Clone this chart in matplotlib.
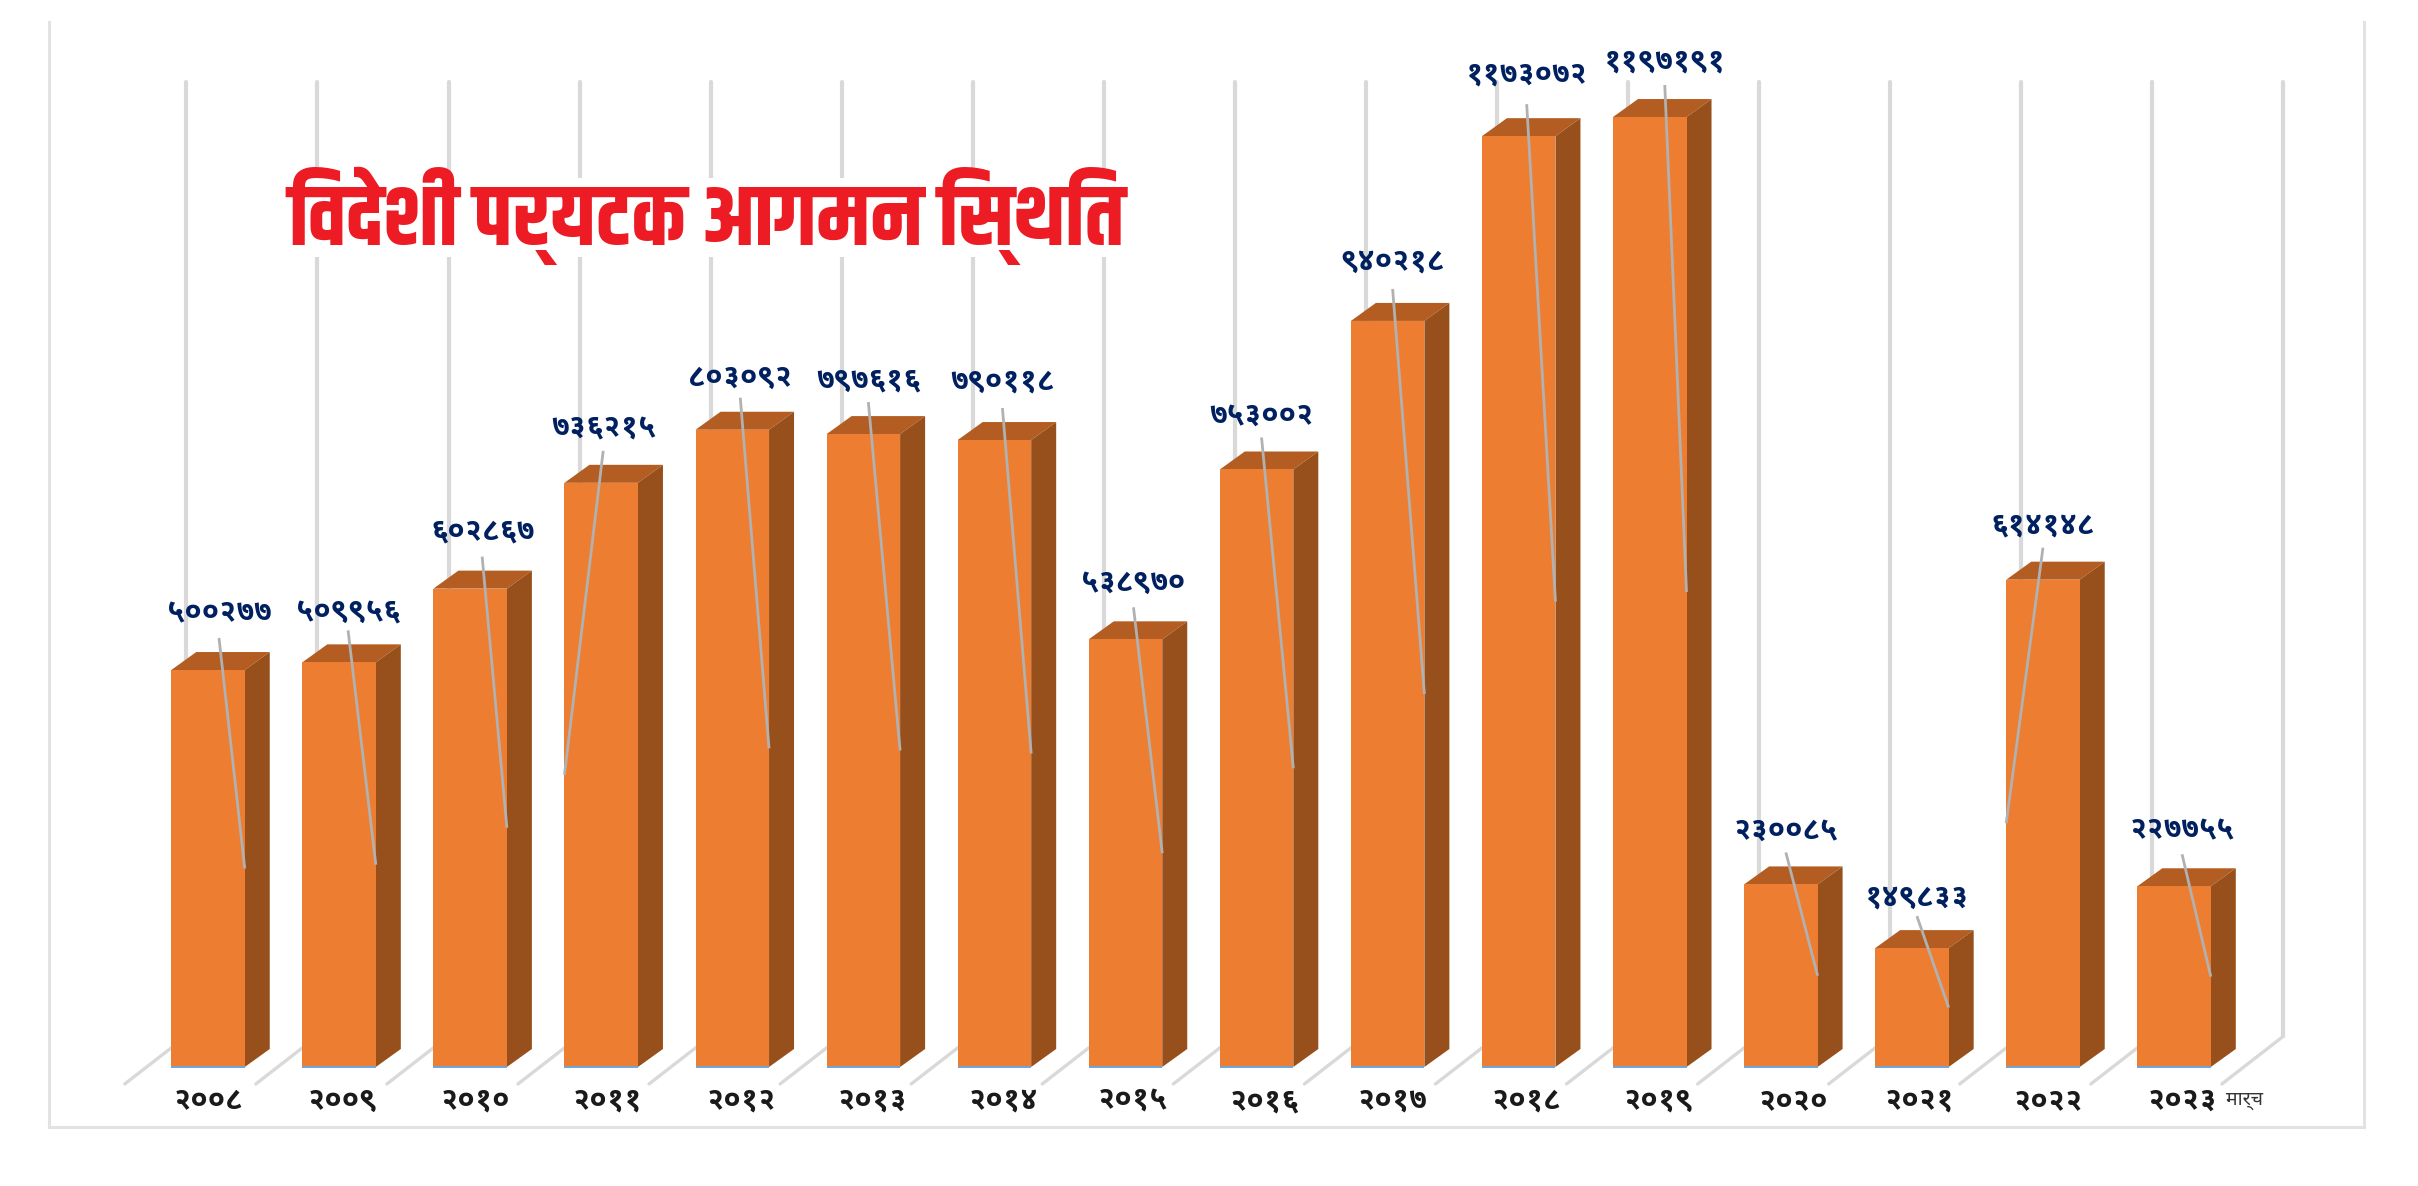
import matplotlib
matplotlib.use('Agg')
import matplotlib.pyplot as plt
from matplotlib.lines import Line2D
from matplotlib.patches import Polygon, Rectangle

# Data
years = ['२००८', '२००९', '२०१०', '२०११', '२०१२', '२०१३', '२०१४', '२०१५',
         '२०१६', '२०१७', '२०१८', '२०१९', '२०२०', '२०२१', '२०२२', '२०२३']
arrivals = [500277, 509956, 602867, 736215, 803092, 797616, 790118, 538970,
            753002, 940218, 1173072, 1197191, 230085, 149833, 614148, 227755]
value_labels = ['५००२७७', '५०९९५६', '६०२८६७', '७३६२१५', '८०३०९२', '७९७६१६', '७९०११८', '५३८९७०',
                '७५३००२', '९४०२१८', '११७३०७२', '११९७१९१', '२३००८५', '१४९८३३', '६१४१४८', '२२७७५५']
# matplotlib has no Indic shaping, so the i-matra is put before its consonant here
title = 'िवदेशी पर्यटक आगमन िस्थित'
year_note = 'मार्च'

# Layout, in pixels of the 2418x1186 figure
W, H = 2418, 1186
X_STEP = 131.07      # px per category
Y_SCALE = 7.935e-4   # px per visitor
X0 = 208.0           # px of the first bar centre
BASE = 1067.0        # px of the baseline, from the top
BAR_W = 73.5 / X_STEP
DX = 25 / X_STEP
DY = 18 / Y_SCALE

# label offsets from the bar centre / bar top, px
label_dx = [11, 9, 12, 2, 8, 5, 8, 8, 5, 5, 8, 15, 5, 5, 0, 8]
label_dy = [57, 50, 57, 54, 52, 54, 59, 57, 54, 59, 62, 56, 54, 51, 54, 56]
year_dx = [0, 3, 5, 6, 9, 9, 9, 7, 8, 5, 8, 9, 13, 7, 5, 8]
# the leaders of 2011 and 2022 end on the left edge of the bar, the others on the right
leader_side = [1, 1, 1, -1, 1, 1, 1, 1, 1, 1, 1, 1, 1, 1, -1, 1]

FRONT = '#ed7d31'
TOP = '#b35d22'
SIDE = '#97501c'
GRID = '#d9d9d9'
LEADER = '#b1b1b1'
NAVY = '#002060'
DIGITS = ['Noto Sans Devanagari UI', 'Noto Sans Devanagari', 'Noto Sans', 'DejaVu Sans']
HEAD = ['Khand', 'Mukta', 'Noto Sans Devanagari', 'Noto Sans', 'DejaVu Sans']

fig = plt.figure(figsize=(W / 100, H / 100), dpi=100)
ax = fig.add_axes([0, 0, 1, 1])
ax.set_xlim(-X0 / X_STEP, (W - X0) / X_STEP)
ax.set_ylim(-(H - BASE) / Y_SCALE, BASE / Y_SCALE)
ax.axis('off')

# back wall and floor lines
n = len(years)
for k in range(n + 1):
    x = k - 0.165
    ax.plot([x, x], [38860, 1241700], color=GRID, lw=3, zorder=1, solid_capstyle='round')
    ax.plot([x, x - 0.47], [38860, -21370], color=GRID, lw=2.4, zorder=1, solid_capstyle='round')

# bars with their fake depth
for i, v in enumerate(arrivals):
    l, r = i - BAR_W / 2, i + BAR_W / 2
    ax.add_patch(Polygon([(l, v), (r, v), (r + DX, v + DY), (l + DX, v + DY)], fc=TOP, ec='none', zorder=3))
    ax.add_patch(Polygon([(r, 0), (r + DX, DY), (r + DX, v + DY), (r, v)], fc=SIDE, ec='none', zorder=3))
ax.bar(range(n), arrivals, width=BAR_W, color=FRONT, zorder=4)
for i in range(n):
    ax.plot([i - BAR_W / 2, i + BAR_W / 2], [0, 0], color='#6fa5d8', lw=1.4, zorder=5, solid_capstyle='butt')

# leader lines and value labels
for i, v in enumerate(arrivals):
    top_x = i + label_dx[i] / X_STEP
    ax.plot([top_x, i + leader_side[i] * BAR_W / 2], [v + 32 / Y_SCALE, v / 2],
            color=LEADER, lw=2, zorder=6, solid_capstyle='butt')
    ax.annotate(value_labels[i], (i, v), xytext=(label_dx[i], label_dy[i]), textcoords='offset pixels',
                ha='center', va='center', color=NAVY, fontsize=22, fontweight='bold', family=DIGITS, zorder=7)
    ax.annotate(years[i], (i, 0), xytext=(year_dx[i], -34), textcoords='offset pixels',
                ha='center', va='center', color='#1a1a1a', fontsize=22, fontweight='bold', family=DIGITS, zorder=7)
ax.annotate(year_note, (n - 1, 0), xytext=(70, -33), textcoords='offset pixels',
            ha='center', va='center', color='#333333', fontsize=14, family=DIGITS)

# white strip that cuts the wall lines behind the title
fig.add_artist(Rectangle((210 / W, 1 - 257 / H), 930 / W, 79 / H, transform=fig.transFigure,
                         fc='white', ec='none', zorder=8))
fig.text(707 / W, 1 - 216 / H, title, ha='center', va='center', color='#ed1c24', fontsize=62,
         fontweight='bold', family=HEAD, zorder=9)

# outer frame, open at the top
for xs, ys in [([49, 49], [22, 1127]), ([49, 2364], [1127, 1127]), ([2364, 2364], [22, 1127])]:
    fig.add_artist(Line2D([x / W for x in xs], [1 - y / H for y in ys], color='#e2e2e2', lw=2.2))

plt.savefig('out.png', dpi=100)
